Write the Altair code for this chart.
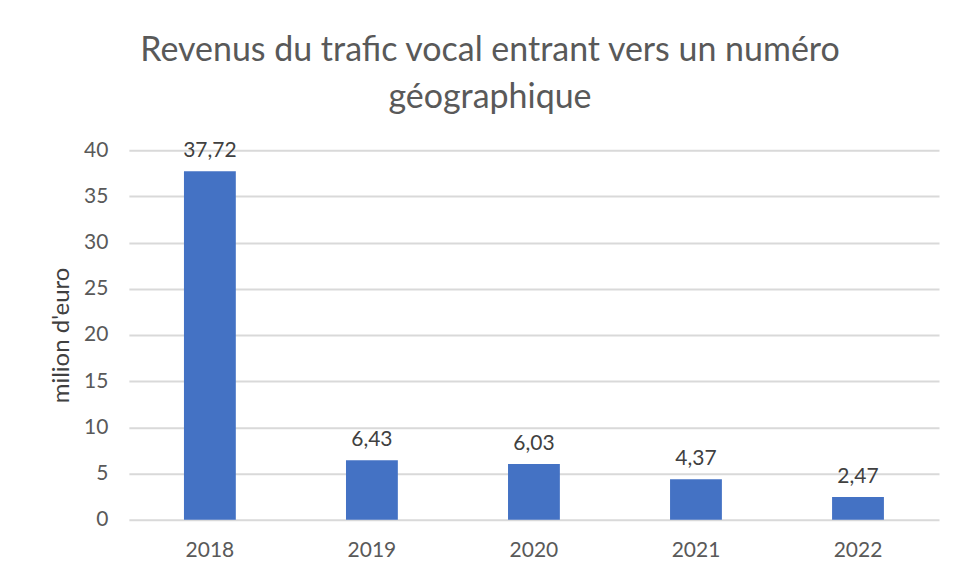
import altair as alt
import pandas as pd

years = ["2018", "2019", "2020", "2021", "2022"]
values = [37.72, 6.43, 6.03, 4.37, 2.47]
y_ticks = [0, 5, 10, 15, 20, 25, 30, 35, 40]

df = pd.DataFrame({"year": years, "value": values})

FONT = "Lato"
GREY = "#595959"

base = alt.Chart(df).encode(
    x=alt.X("year:N", sort=years,
            scale=alt.Scale(paddingInner=0.68, paddingOuter=0.34),
            axis=alt.Axis(title=None, labelAngle=0, domain=False, ticks=False,
                          labelPadding=20, labelFontSize=21, labelColor=GREY,
                          labelFont=FONT, grid=False)),
    y=alt.Y("value:Q", scale=alt.Scale(domain=[0, 40]),
            axis=alt.Axis(title="milion d'euro", values=y_ticks, domain=False, ticks=False,
                          labelPadding=21, labelFontSize=21, labelColor=GREY, labelFont=FONT,
                          titleFont=FONT, titleFontSize=24, titleColor="#404040",
                          titleFontWeight="normal", titlePadding=10,
                          grid=True, gridColor="#d9d9d9", gridWidth=2)),
)

bars = base.mark_bar(color="#4472C4")
labels = base.transform_calculate(
    label="replace(format(datum.value, '.2f'), '.', ',')"
).mark_text(baseline="bottom", dy=-10, fontSize=21, font=FONT, color="#404040").encode(
    text="label:N"
)

chart = alt.layer(bars, labels).properties(
    width=811,
    height=370,
    title=alt.TitleParams(
        text=["Revenus du trafic vocal entrant vers un numéro", "géographique"],
        font=FONT, fontSize=34, fontWeight="normal", color=GREY,
        anchor="middle", dx=-44, offset=24, lineHeight=47,
    ),
    padding={"left": 121, "top": 142, "right": 10, "bottom": 40},
    autosize=alt.AutoSizeParams(type="none"),
).configure_view(stroke=None)

chart.save("out.html", embed_options={"renderer": "svg", "actions": False})
